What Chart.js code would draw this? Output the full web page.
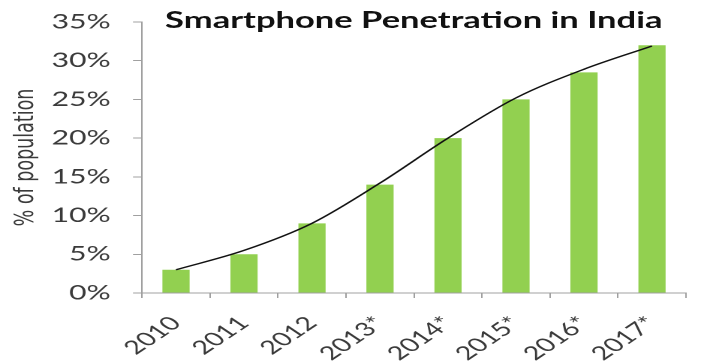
<!DOCTYPE html>
<html>
<head>
<meta charset="utf-8">
<script src="https://cdn.jsdelivr.net/npm/chart.js@4.4.1/dist/chart.umd.min.js"></script>
<style>
  html, body { margin: 0; padding: 0; background: #fff; }
  /* the reference is a horizontally stretched picture, so the chart is drawn narrow and stretched */
  #wrap {
    position: relative;
    width: 475px;
    height: 364px;
    transform: scaleX(1.50105);
    transform-origin: 0 0;
  }
  #titulo {
    position: absolute;
    left: 110px;
    top: 8px;
    font-family: Lato, "Open Sans", sans-serif;
    font-weight: bold;
    font-size: 23px;
    line-height: 1;
    color: #111;
    white-space: nowrap;
  }
</style>
</head>
<body>
<div id="wrap">
  <canvas id="grafico" width="475" height="364"></canvas>
  <div id="titulo">Smartphone Penetration in India</div>
</div>
<script>
const years = ["2010", "2011", "2012", "2013*", "2014*", "2015*", "2016*", "2017*"];
const penetration = [3, 5, 9, 14, 20, 25, 28.5, 32];
const trend = [3.0, 5.5, 9.0, 14.2, 20.0, 25.2, 28.9, 31.9];
const yMin = 0;
const yMax = 35;
const yStep = 5;

document.addEventListener("DOMContentLoaded", function () {
  criarGrafico();
});

function criarGrafico() {
  const cinza = "#a0a0a0";
  const texto = "#3a3a3a";

  new Chart(document.getElementById("grafico"), {
    type: "bar",
    data: {
      labels: years,
      datasets: [
        {
          type: "line",
          label: "Trend",
          data: trend,
          borderColor: "#111",
          borderWidth: 1.4,
          pointRadius: 0,
          cubicInterpolationMode: "monotone",
          fill: false,
          order: 0,
        },
        {
          label: "% of population",
          data: penetration,
          backgroundColor: "#92d050",
          borderWidth: 0,
          barPercentage: 0.4,
          categoryPercentage: 1,
          order: 1,
        },
      ],
    },
    options: {
      responsive: false,
      animation: false,
      devicePixelRatio: 2,
      layout: {
        padding: { top: 22, right: 18, bottom: 0, left: 0 },
      },
      plugins: {
        legend: { display: false },
        tooltip: { enabled: false },
        title: { display: false },
      },
      scales: {
        x: {
          offset: true,
          afterFit: function (scale) {
            scale.height = 71;
          },
          grid: {
            offset: true,
            drawOnChartArea: false,
            drawTicks: true,
            tickLength: 5,
            color: cinza,
          },
          border: { color: cinza, width: 1 },
          ticks: {
            minRotation: 45,
            maxRotation: 45,
            padding: 14,
            color: texto,
            font: { family: "Lato", size: 19 },
          },
        },
        y: {
          min: yMin,
          max: yMax,
          afterFit: function (scale) {
            scale.width = 94.6;
            // keep the tick padding from pushing the plot down
            scale.paddingTop = 10;
            scale.paddingBottom = 0;
          },
          grid: {
            drawOnChartArea: false,
            drawTicks: true,
            tickLength: 6,
            color: cinza,
          },
          border: { color: cinza, width: 1 },
          ticks: {
            stepSize: yStep,
            padding: 15,
            color: texto,
            font: { family: "Lato", size: 20 },
            callback: function (valor) {
              return valor + "%";
            },
          },
          title: {
            display: true,
            text: "% of population",
            color: texto,
            padding: { top: 7, bottom: 0 },
            font: { family: "DejaVu Sans", size: 17.5 },
          },
        },
      },
    },
  });
}
</script>
</body>
</html>
